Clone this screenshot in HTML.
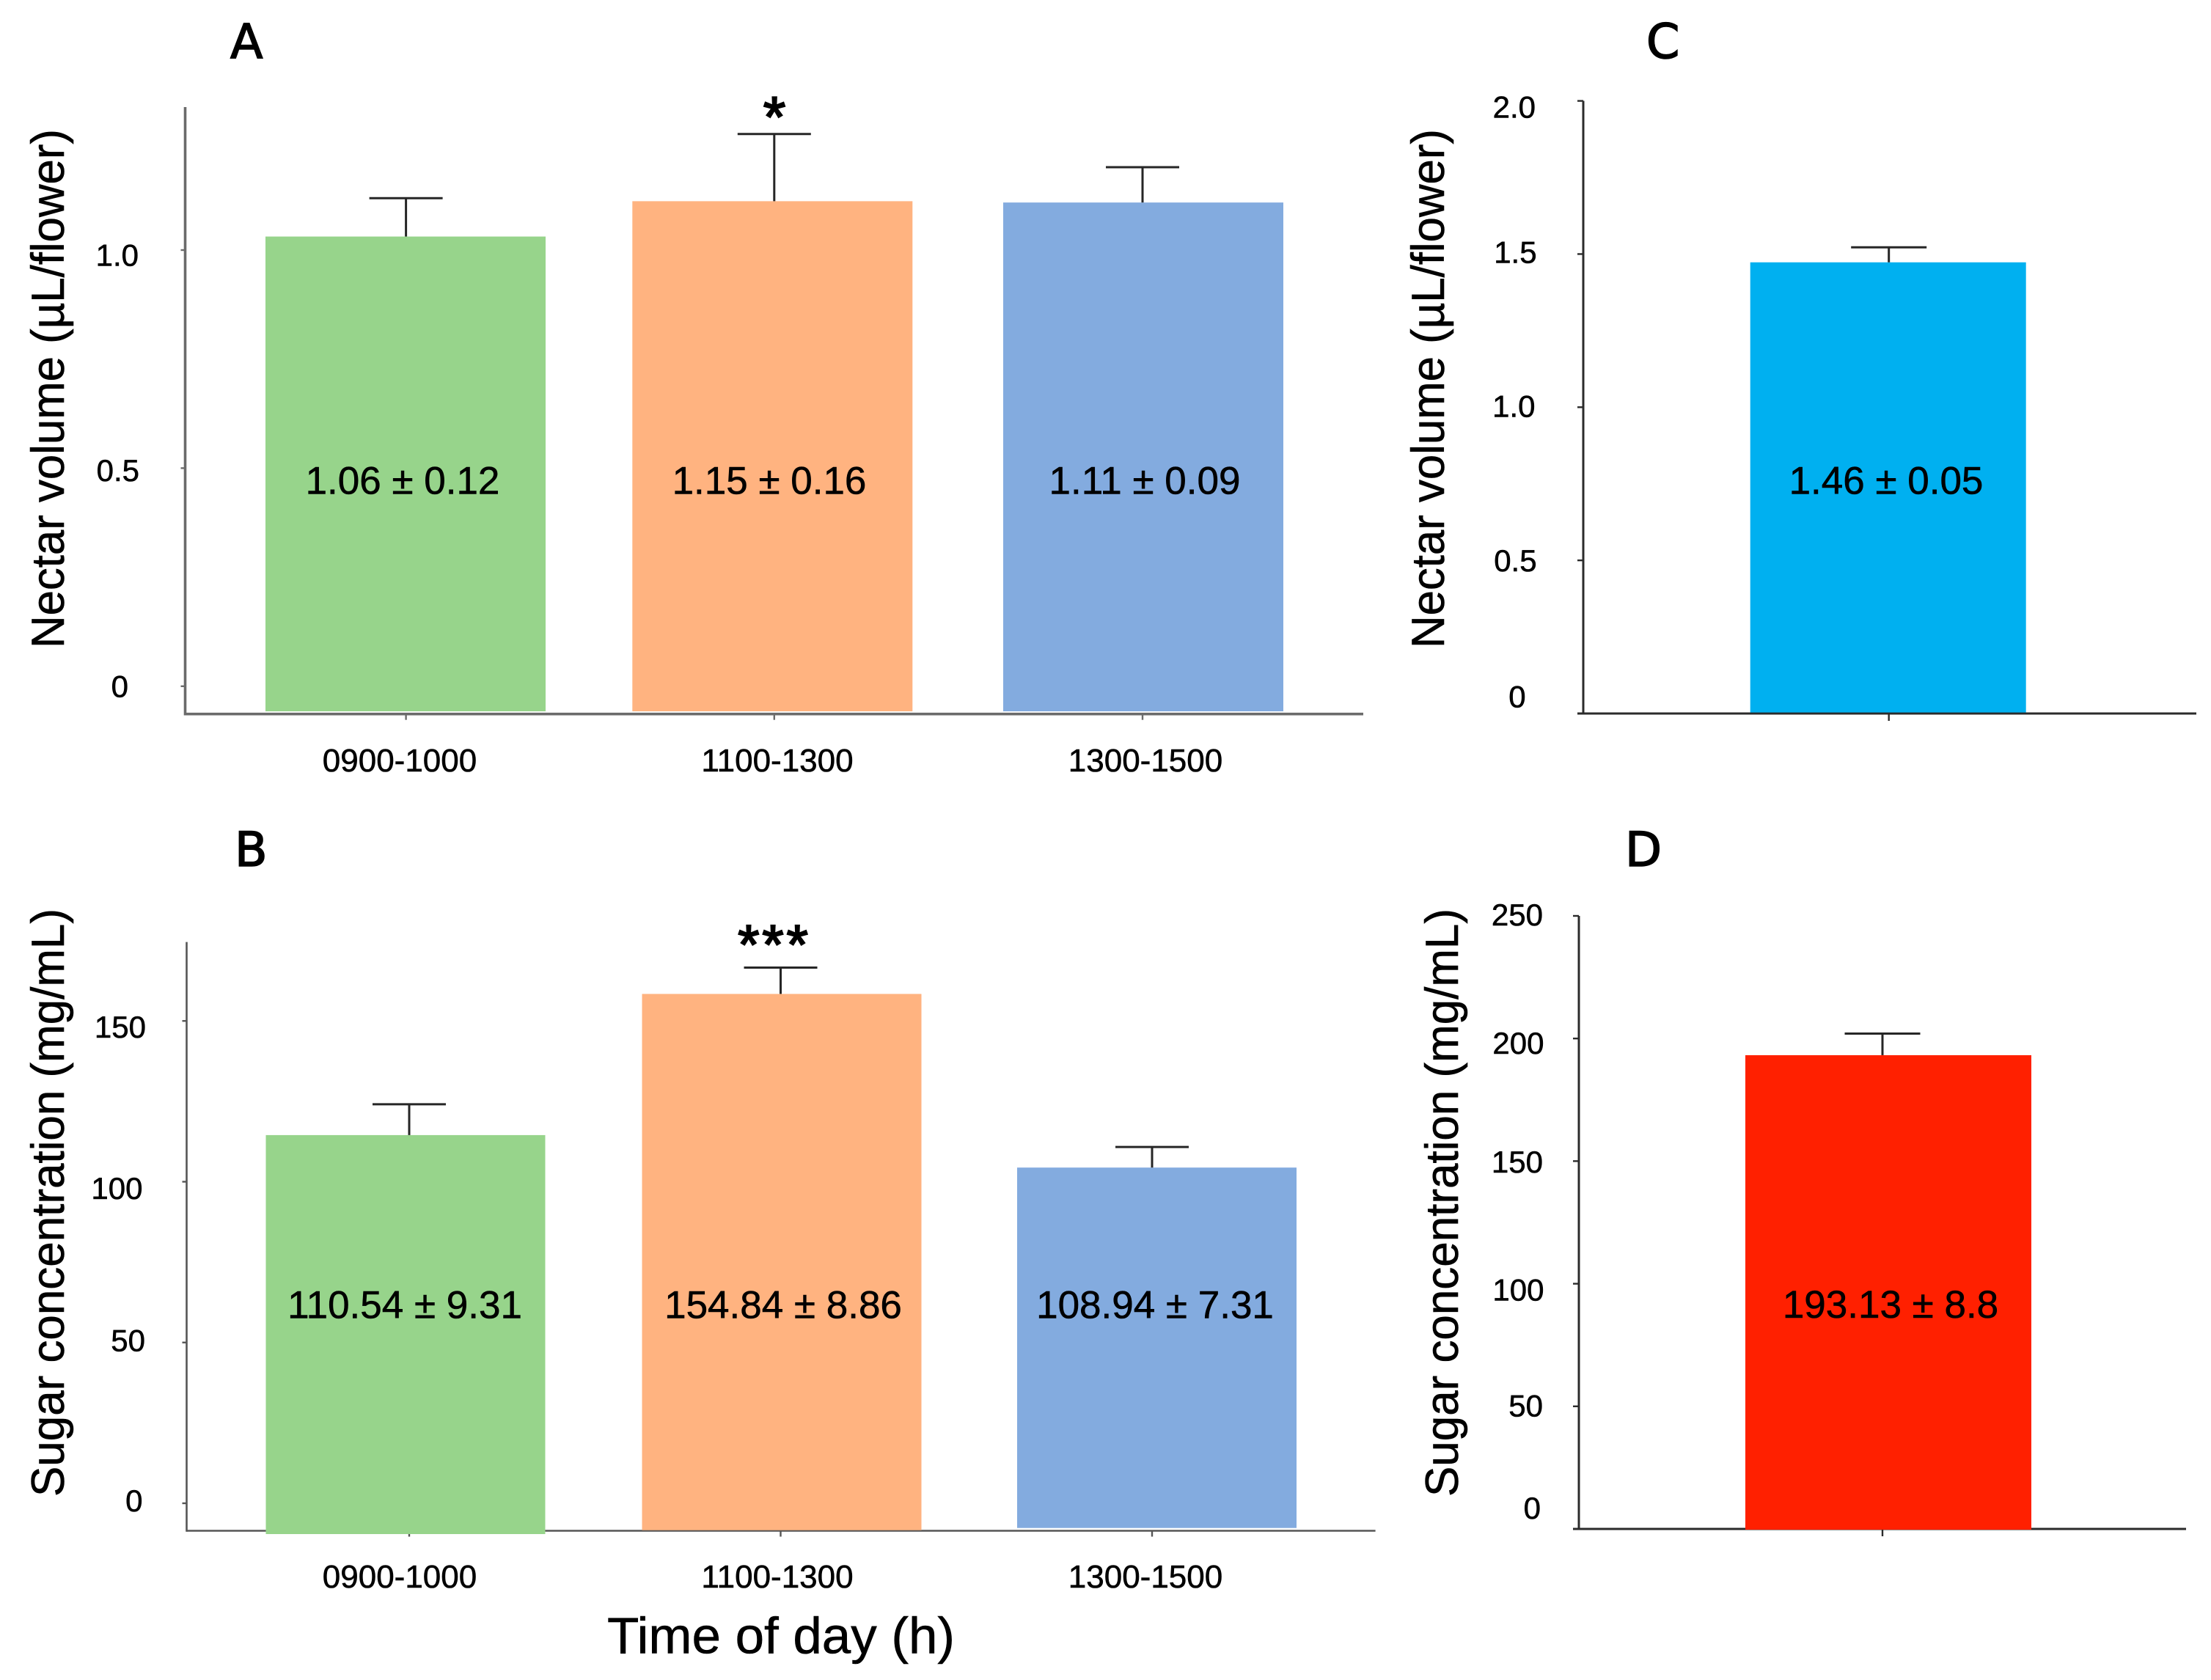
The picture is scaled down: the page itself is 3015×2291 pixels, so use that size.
<!DOCTYPE html>
<html lang="en">
<head>
<meta charset="utf-8">
<title>Nectar volume and sugar concentration by time of day</title>
<style>
  html, body { margin: 0; padding: 0; background: #fff; }
  svg { display: block; }
  text { font-family: "Liberation Sans", Arial, sans-serif; fill: #000; stroke: #000; stroke-width: 0.6px; }
  .panel-letter { font-family: "DejaVu Sans", "Liberation Sans", sans-serif; stroke-width: 1.6px; }
  .star { stroke-width: 2.2px; }
</style>
</head>
<body>
<svg id="figure" xmlns="http://www.w3.org/2000/svg" width="3015" height="2291" viewBox="0 0 3015 2291">
  <rect x="0" y="0" width="3015" height="2291" fill="#ffffff"></rect>
</svg>
<script>
// ---------- Data ----------
const timeCategories = ['0900-1000', '1100-1300', '1300-1500'];

const panelAValues = [1.031, 1.112, 1.109];
const panelAErrors = [0.088, 0.154, 0.081];
const panelAPrinted = ['1.06 ± 0.12', '1.15 ± 0.16', '1.11 ± 0.09'];
const panelATickValues = [0, 0.5, 1];
const panelATickLabels = ['0', '0.5', '1.0'];

const panelBValues = [114.5, 158.4, 104.4];
const panelBErrors = [9.6, 8.2, 6.4];
const panelBPrinted = ['110.54 ± 9.31', '154.84 ± 8.86', '108.94 ± 7.31'];
const panelBTickValues = [0, 50, 100, 150];
const panelBTickLabels = ['0', '50', '100', '150'];

const panelCValues = [1.473];
const panelCErrors = [0.049];
const panelCPrinted = ['1.46 ± 0.05'];
const panelCTickValues = [0, 0.5, 1, 1.5, 2];
const panelCTickLabels = ['0', '0.5', '1.0', '1.5', '2.0'];

const panelDValues = [193.2];
const panelDErrors = [8.8];
const panelDPrinted = ['193.13 ± 8.8'];
const panelDTickValues = [0, 50, 100, 150, 200, 250];
const panelDTickLabels = ['0', '50', '100', '150', '200', '250'];

// ---------- Panel definitions: data + layout ----------
const panels = [
  {
    id: 'a', letter: 'A', letterX: 314, letterY: 79,
    title: 'Nectar volume (µL/flower)', titleX: 87, titleBottom: 884, titleLen: 708,
    categories: timeCategories, values: panelAValues, errors: panelAErrors, printed: panelAPrinted,
    tickValues: panelATickValues, tickLabels: panelATickLabels,
    axisX: 252.5, axisTop: 146, axisY: 973.7, axisRight: 1859, axisColor: '#6b6b6b', axisWidth: 3.6, tickLen: 6, topTick: false,
    yZero: 935.8, yPerUnit: 594.8,
    xStart: 553.6, xStep: 502.2, barWidth: 382, barNudge: [-0.6, -2.5, 1], barFloor: [970, 970, 970], capWidth: 100,
    valueY: 673.5, valueX: [549, 1049, 1561],
    catY: 1052, catX: [545, 1060, 1562],
    labelRight: [175, 190, 189], labelDy: [14.7, 17.6, 21.7],
    colors: ['#97d48b', '#ffb380', '#83abdf']
  },
  {
    id: 'b', letter: 'B', letterX: 320, letterY: 1181,
    title: 'Sugar concentration (mg/mL)', titleX: 87, titleBottom: 2041, titleLen: 802,
    categories: timeCategories, values: panelBValues, errors: panelBErrors, printed: panelBPrinted,
    tickValues: panelBTickValues, tickLabels: panelBTickLabels,
    axisX: 254.5, axisTop: 1284.6, axisY: 2087.5, axisRight: 1875.6, axisColor: '#555555', axisWidth: 2.6, tickLen: 6, topTick: false,
    yZero: 2050, yPerUnit: 4.385,
    xStart: 558, xStep: 506.5, barWidth: 381, barNudge: [-5, 1.5, 6.5], barFloor: [2092, 2086.7, 2083.7], capWidth: 100,
    valueY: 1797.3, valueX: [552, 1068, 1575],
    catY: 2165, catX: [545, 1060, 1562],
    labelRight: [194.5, 198, 194.5, 199], labelDy: [11, 11.5, 23.5, 22.6],
    colors: ['#97d48b', '#ffb380', '#83abdf']
  },
  {
    id: 'c', letter: 'C', letterX: 2245, letterY: 79,
    title: 'Nectar volume (µL/flower)', titleX: 1969, titleBottom: 884, titleLen: 708,
    categories: [''], values: panelCValues, errors: panelCErrors, printed: panelCPrinted,
    tickValues: panelCTickValues, tickLabels: panelCTickLabels,
    axisX: 2159, axisTop: 137.5, axisY: 973, axisRight: 2995, axisColor: '#2b2b2b', axisWidth: 3, tickLen: 8, topTick: true,
    yZero: 973, yPerUnit: 417.7,
    xStart: 2575.7, xStep: 0, barWidth: 376, barNudge: [-1], barFloor: [971.6], capWidth: 103,
    valueY: 673.5, valueX: [2572],
    catY: 0, catX: [0],
    labelRight: [2080.6, 2095.6, 2093.5, 2095.6, 2094], labelDy: [-8.4, 14.7, 13, 12, 23],
    colors: ['#00b0f0']
  },
  {
    id: 'd', letter: 'D', letterX: 2216, letterY: 1181,
    title: 'Sugar concentration (mg/mL)', titleX: 1988, titleBottom: 2041, titleLen: 802,
    categories: [''], values: panelDValues, errors: panelDErrors, printed: panelDPrinted,
    tickValues: panelDTickValues, tickLabels: panelDTickLabels,
    axisX: 2153, axisTop: 1249, axisY: 2085, axisRight: 2981, axisColor: '#2b2b2b', axisWidth: 3, tickLen: 8, topTick: true,
    yZero: 2085, yPerUnit: 3.344,
    xStart: 2567, xStep: 0, barWidth: 390, barNudge: [8], barFloor: [2086], capWidth: 103,
    valueY: 1797, valueX: [2578],
    catY: 0, catX: [0],
    labelRight: [2101, 2104, 2105.5, 2104, 2105.5, 2104], labelDy: [-14, 13.5, 23, 15.5, 21, 13],
    colors: ['#ff2000']
  }
];

// ---------- Drawing ----------
const SVG_NS = 'http://www.w3.org/2000/svg';
const figure = document.getElementById('figure');

function make(parent, tag, attrs, content) {
  const node = document.createElementNS(SVG_NS, tag);
  Object.keys(attrs).forEach(function (k) { node.setAttribute(k, attrs[k]); });
  if (content !== undefined) node.textContent = content;
  parent.appendChild(node);
  return node;
}

function yScale(panel, v) { return panel.yZero - v * panel.yPerUnit; }
function xScale(panel, i) { return panel.xStart + i * panel.xStep; }

panels.forEach(function (p) {
  const g = make(figure, 'g', {});
  
  

  const letter = make(g, 'text', { x: p.letterX, y: p.letterY, 'font-size': 65, class: 'panel-letter' }, p.letter);
  
  

  const title = make(g, 'text', {
    x: 0, y: 0, 'font-size': 63, textLength: p.titleLen, lengthAdjust: 'spacingAndGlyphs',
    transform: 'translate(' + p.titleX + ',' + p.titleBottom + ') rotate(-90)'
  }, p.title);
  
  

  const yAxis = make(g, 'line', { x1: p.axisX, y1: p.axisTop, x2: p.axisX, y2: p.axisY + p.axisWidth / 2, stroke: p.axisColor, 'stroke-width': p.axisWidth });
  
  

  const xAxis = make(g, 'line', { x1: p.axisX - (p.topTick ? p.tickLen : 0), y1: p.axisY, x2: p.axisRight, y2: p.axisY, stroke: p.axisColor, 'stroke-width': p.axisWidth });
  
  

  p.tickValues.forEach(function (v, i) {
    const ty = yScale(p, v);
    const tick = make(g, 'line', { x1: p.axisX - p.tickLen, y1: ty, x2: p.axisX, y2: ty, stroke: p.axisColor, 'stroke-width': 2.4 });
    
    

    const label = make(g, 'text', { x: p.labelRight[i], y: ty + p.labelDy[i], 'font-size': 42, 'text-anchor': 'end' }, p.tickLabels[i]);
    
    
  });

  p.values.forEach(function (v, i) {
    const cx = xScale(p, i);
    const top = yScale(p, v);
    const errTop = yScale(p, v + p.errors[i]);

    const xTick = make(g, 'line', { x1: cx, y1: p.axisY, x2: cx, y2: p.axisY + p.tickLen + 2, stroke: p.axisColor, 'stroke-width': 2.4 });
    
    

    const bar = make(g, 'rect', {
      x: cx + p.barNudge[i] - p.barWidth / 2, y: top, width: p.barWidth,
      height: p.barFloor[i] - top, fill: p.colors[i]
    });
    
    

    const stem = make(g, 'line', { x1: cx, y1: errTop, x2: cx, y2: top, stroke: '#262626', 'stroke-width': 3 });
    
    

    const cap = make(g, 'line', { x1: cx - p.capWidth / 2, y1: errTop, x2: cx + p.capWidth / 2, y2: errTop, stroke: '#262626', 'stroke-width': 3 });
    
    

    const printed = make(g, 'text', { x: p.valueX[i], y: p.valueY, 'font-size': 53, 'text-anchor': 'middle' }, p.printed[i]);
    
    

    if (p.categories[i]) {
      const cat = make(g, 'text', { x: p.catX[i], y: p.catY, 'font-size': 44, 'text-anchor': 'middle' }, p.categories[i]);
      
      
    }
  });
});

const starOne = make(figure, 'text', { x: 1056, y: 186, 'font-size': 78, 'text-anchor': 'middle', class: 'star' }, '*');



const starThree = make(figure, 'text', { x: 1056, y: 1314, 'font-size': 75, 'text-anchor': 'middle', 'letter-spacing': 4, class: 'star' }, '***');



const xTitle = make(figure, 'text', { x: 828, y: 2254.6, 'font-size': 70, textLength: 474, lengthAdjust: 'spacingAndGlyphs' }, 'Time of day (h)');


</script>
</body>
</html>
